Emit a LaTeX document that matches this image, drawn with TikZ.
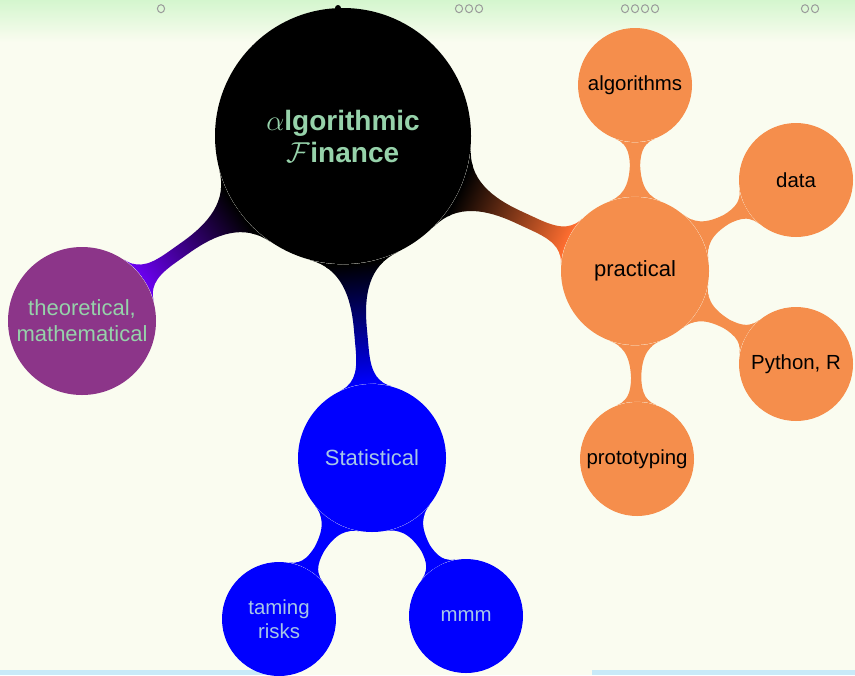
\documentclass[tikz,border=0pt]{standalone}
\usepackage{fontspec}
\setmainfont{Liberation Sans}
\usetikzlibrary{mindmap,backgrounds}
\definecolor{bgc}{HTML}{FAFCF0}
\definecolor{topc}{HTML}{D4F6CE}
\definecolor{barblue}{HTML}{C8EAF8}
\definecolor{rootc}{HTML}{000000}
\definecolor{purplec}{HTML}{8C3589}
\definecolor{violetbar}{HTML}{6A00EE}
\definecolor{orangec}{HTML}{F58E4C}
\definecolor{orangebar}{HTML}{FF6E30}
\definecolor{bluec}{HTML}{0000FF}
\definecolor{greentext}{HTML}{96D2AA}
\definecolor{bluetext}{HTML}{A6C6E6}
\definecolor{navc}{HTML}{9A9A9A}
\pgfdeclarelayer{bars}
\pgfdeclarelayer{bottom}
\pgfsetlayers{bottom,bars,main}
\tikzset{
  bubble/.style={circle, inner sep=0pt, align=center, text centered},
  rootbubble/.style={bubble, fill=rootc, minimum size=128pt, text=greentext, font=\fontsize{14}{16}\selectfont\bfseries},
  lvlone/.style={bubble, minimum size=74pt, font=\fontsize{11}{13}\selectfont},
  lvltwo/.style={bubble, minimum size=57pt, font=\fontsize{10.2}{12}\selectfont},
  navdot/.style={draw=navc, line width=0.5pt},
  mainbar/.style={line width=6.6pt},
  subbar/.style={line width=4.4pt},
}
\begin{document}
\begin{tikzpicture}[x=0.5pt,y=-0.5pt]
\begin{pgfonlayer}{bottom}
  \fill[bgc] (0,0) rectangle (855,675);
  \shade[top color=topc, bottom color=bgc] (0,0) rectangle (855,42);
  \fill[barblue] (0,670) rectangle (270,675);
  \fill[barblue] (592,670) rectangle (855,675);
  \foreach \x in {161, 459, 469, 479, 625, 635, 645, 655, 805, 815}
    \draw[navdot] (\x,8.7) ellipse[x radius=3.6, y radius=4];
\end{pgfonlayer}
\useasboundingbox (0,0) rectangle (855,675);

\node[rootbubble] (root) at (343,136) {$\alpha$lgorithmic\\$\mathcal{F}$inance};
\fill[rootc] (338,8) circle[radius=3];

\node[lvlone, fill=purplec, text=greentext] (theo) at (82,321) {theoretical,\\mathematical};
\node[lvlone, fill=bluec, text=bluetext] (stat) at (372,458) {Statistical};
\node[lvlone, fill=orangec, text=black] (prac) at (635,271) {practical};

\node[lvltwo, fill=orangec, text=black] (alg) at (635,85) {algorithms};
\node[lvltwo, fill=orangec, text=black] (data) at (796,180) {data};
\node[lvltwo, fill=orangec, text=black] (pyth) at (796,364) {Python, R};
\node[lvltwo, fill=orangec, text=black] (proto) at (637,459) {prototyping};

\node[lvltwo, fill=bluec, text=bluetext] (tame) at (279,619) {taming\\risks};
\node[lvltwo, fill=bluec, text=bluetext] (mmm) at (466,616) {mmm};

\begin{pgfonlayer}{bars}
  \path[mainbar] (root) to[circle connection bar switch color=from (rootc) to (violetbar)] (theo);
  \path[mainbar] (root) to[circle connection bar switch color=from (rootc) to (bluec)] (stat);
  \path[mainbar] (root) to[circle connection bar switch color=from (rootc) to (orangebar)] (prac);
  \path[subbar] (prac) to[circle connection bar switch color=from (orangec) to (orangec)] (alg);
  \path[subbar] (prac) to[circle connection bar switch color=from (orangec) to (orangec)] (data);
  \path[subbar] (prac) to[circle connection bar switch color=from (orangec) to (orangec)] (pyth);
  \path[subbar] (prac) to[circle connection bar switch color=from (orangec) to (orangec)] (proto);
  \path[subbar] (stat) to[circle connection bar switch color=from (bluec) to (bluec)] (tame);
  \path[subbar] (stat) to[circle connection bar switch color=from (bluec) to (bluec)] (mmm);
\end{pgfonlayer}
\end{tikzpicture}
\end{document}
